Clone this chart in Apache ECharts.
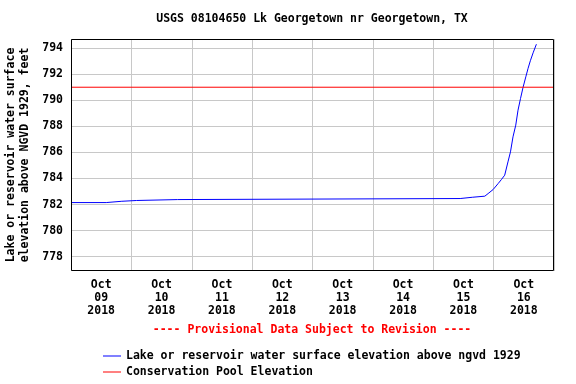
<!DOCTYPE html>
<html>
<head>
<meta charset="utf-8">
<script src="https://cdn.jsdelivr.net/npm/echarts@6/dist/echarts.min.js"></script>
<style>html,body{margin:0;padding:0;background:#fff;}#c{width:576px;height:384px;}</style>
</head>
<body>
<div id="c"></div>
<script>
// Day labels (each centered in its day band)
var dayLabels = ['Oct\n09\n2018','Oct\n10\n2018','Oct\n11\n2018','Oct\n12\n2018','Oct\n13\n2018','Oct\n14\n2018','Oct\n15\n2018','Oct\n16\n2018'];
// Elevation series: hours since Oct 09 2018 00:00, and elevation (ft)
var hours  = [0, 14.0, 14.3, 20.2, 20.5, 26.1, 26.4, 42.4, 42.7, 154.7, 155.0, 159.7, 160.0, 164.5, 165.8, 167.8, 169.8, 171.1, 172.4, 173.7, 174.7, 175.7, 176.8, 177.7, 178.7, 179.7, 180.8, 181.7, 182.6, 183.7, 185.0];
var levels = [782.15, 782.15, 782.25, 782.25, 782.31, 782.31, 782.38, 782.38, 782.46, 782.46, 782.56, 782.56, 782.64, 782.64, 782.84, 783.15, 783.61, 783.92, 784.25, 785.27, 786.04, 787.19, 788.09, 789.24, 790.14, 790.99, 791.80, 792.45, 793.03, 793.64, 794.30];
// Conservation pool elevation
var poolHours = [0, 192];
var poolLevel = [791, 791];
// Y tick labels
var yTicks = [778, 780, 782, 784, 786, 788, 790, 792, 794];

var FONT = 'DejaVu Sans Mono';
var FS = 11.5;
var G = {left: 71, top: 39, right: 22, bottom: 113};

var chart = echarts.init(document.getElementById('c'), null, {renderer: 'canvas'});
chart.setOption({
  animation: false,
  backgroundColor: '#fff',
  title: {
    text: 'USGS 08104650 Lk Georgetown nr Georgetown, TX',
    left: 312, top: 12, textAlign: 'center', padding: 0,
    textStyle: {fontFamily: FONT, fontSize: FS, fontWeight: 'bold', color: '#000', lineHeight: 14}
  },
  grid: {left: G.left, top: G.top, right: G.right, bottom: G.bottom, show: false, containLabel: false, outerBoundsMode: 'none'},
  legend: {
    orient: 'vertical', left: 103, top: 349, padding: 0, itemGap: 2,
    itemWidth: 18, itemHeight: 1, icon: 'rect',
    textStyle: {fontFamily: FONT, fontSize: FS, fontWeight: 'bold', color: '#000', lineHeight: 14},
    data: ['Lake or reservoir water surface elevation above ngvd 1929', 'Conservation Pool Elevation']
  },
  xAxis: [
    {
      type: 'category', data: dayLabels, boundaryGap: true,
      axisLine: {show: false}, axisTick: {show: false},
      axisLabel: {interval: 0, margin: 8, fontFamily: FONT, fontSize: FS, fontWeight: 'bold', color: '#000', lineHeight: 13},
      splitLine: {show: true, interval: 0, lineStyle: {color: '#c8c8c8', width: 1}}
    },
    {
      type: 'value', min: 0, max: 192, show: false, splitLine: {show: false}
    }
  ],
  yAxis: {
    type: 'value', min: 776.9, max: 794.7,
    axisLine: {show: false},
    axisTick: {show: false, customValues: yTicks},
    axisLabel: {customValues: yTicks, margin: 8, fontFamily: FONT, fontSize: FS, fontWeight: 'bold', color: '#000'},
    splitLine: {show: true, lineStyle: {color: '#c8c8c8', width: 1}}
  },
  graphic: [
    {
      type: 'rect', z: 100, silent: true,
      shape: {x: G.left + 0.5, y: G.top + 0.5, width: 576 - G.left - G.right - 1, height: 384 - G.top - G.bottom - 1},
      style: {fill: 'none', stroke: '#000', lineWidth: 1}
    },
    {
      type: 'text', x: 18, y: 155, rotation: Math.PI / 2,
      style: {text: 'Lake or reservoir water surface\nelevation above NGVD 1929, feet', x: 0, y: 0, align: 'center', verticalAlign: 'middle',
        font: 'bold ' + FS + 'px ' + FONT, fill: '#000', lineHeight: 13.5}
    },
    {
      type: 'text', x: 312, y: 330,
      style: {text: '---- Provisional Data Subject to Revision ----', align: 'center', verticalAlign: 'middle',
        font: 'bold ' + FS + 'px ' + FONT, fill: '#ff0000'}
    }
  ],
  series: [
    {
      name: 'Lake or reservoir water surface elevation above ngvd 1929',
      type: 'line', xAxisIndex: 1, showSymbol: false, symbol: 'none',
      data: hours.map(function (h, i) { return [h, levels[i]]; }),
      lineStyle: {color: '#0000ff', width: 1}, itemStyle: {color: '#0000ff'}, z: 3
    },
    {
      name: 'Conservation Pool Elevation',
      type: 'line', xAxisIndex: 1, showSymbol: false, symbol: 'none',
      data: poolHours.map(function (h, i) { return [h, poolLevel[i]]; }),
      lineStyle: {color: '#ff0000', width: 1}, itemStyle: {color: '#ff0000'}, z: 4
    }
  ]
});
</script>
</body>
</html>
